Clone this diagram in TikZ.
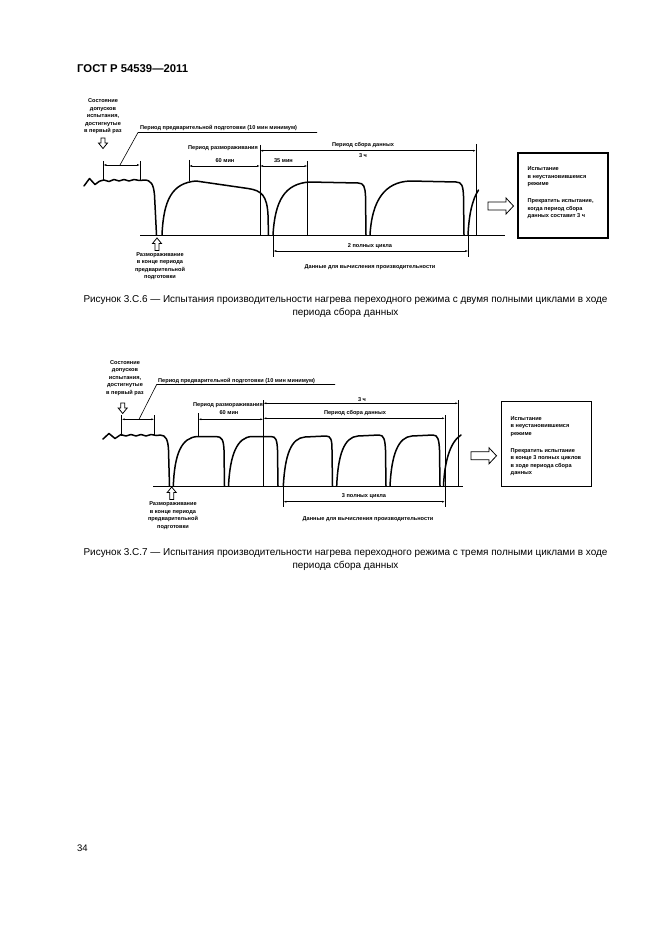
\documentclass[tikz,border=0pt]{standalone}
\usepackage{fontspec}
\setmainfont{Liberation Sans}
\usetikzlibrary{arrows.meta}
\tikzset{
  wave/.style={line width=1.5pt, line join=round, line cap=round},
  vline/.style={line width=0.7pt},
  dimline/.style={line width=0.6pt, {Latex[length=3pt,width=2pt]}-{Latex[length=3pt,width=2pt]}},
  lbl/.style={font=\fontsize{5.6}{7.5}\selectfont\bfseries, inner sep=0pt},
  captxt/.style={font=\fontsize{9.95}{13}\selectfont, inner sep=0pt},
  notebox/.style={draw, line width=1.3pt, inner sep=0pt},
  hdown/.pic={\draw[line width=0.8pt, fill=white] (-2,-5) -- (2,-5) -- (2,0) -- (4.5,0) -- (0,5.5) -- (-4.5,0) -- (-2,0) -- cycle;},
  hup/.pic={\draw[line width=0.8pt, fill=white] (-2,7) -- (2,7) -- (2,0) -- (4.5,0) -- (0,-5.5) -- (-4.5,0) -- (-2,0) -- cycle;},
  hright/.pic={\draw[line width=0.8pt, fill=white] (-18,-4) -- (0,-4) -- (0,-8) -- (7.5,0) -- (0,8) -- (0,4) -- (-18,4) -- cycle;}
}
\begin{document}
\begin{tikzpicture}[x=1pt,y=-1pt]
\useasboundingbox (0,0) rectangle (661,936);
\fill[white] (0,0) rectangle (661,936);

% header and page number
\node[anchor=west, font=\fontsize{11.3}{13}\selectfont\bfseries, inner sep=0pt] (hdr) at (77,68.5) {ГОСТ Р 54539—2011};
\node[anchor=west, font=\fontsize{9.5}{11}\selectfont, inner sep=0pt] (pnum) at (77,848.5) {34};

%%%%%%%%%%%%%%%%%% FIGURE 1 %%%%%%%%%%%%%%%%%%
\node[lbl, align=center] (f1state) at (103,116.5) {Состояние\\допусков\\испытания,\\достигнутые\\в первый раз};
\pic at (103,143) {hdown};

% bracket preconditioning
\draw[vline] (103.3,161) -- (103.3,180);
\draw[vline] (140,161) -- (140,180);
\draw[dimline] (103.3,165) -- (140,165);
\coordinate (f1lead) at (120,165);
\coordinate (f1knee) at (138,132.5);
\coordinate (f1end) at (317,132.5);
\draw[line width=0.6pt] (f1lead) -- (f1knee) -- (f1end);
\node[lbl, anchor=base west] (f1pre) at (140,130) {Период предварительной подготовки (10 мин минимум)};

% defrost / data labels
\node[lbl] (f1defr) at (223,148.3) {Период размораживания};
\node[lbl] (f1m60) at (225,160.3) {60 мин};
\node[lbl] (f1m35) at (283.5,160.3) {35 мин};
\node[lbl] (f1data) at (363,145) {Период сбора данных};
\node[lbl] (f1h3) at (363,155.3) {3 ч};

\draw[vline] (189,160) -- (189,181.5);
\draw[vline] (260,145) -- (260,235);
\draw[vline] (307.5,161) -- (307.5,235);
\draw[vline] (476,144) -- (476,235);
\draw[dimline] (189,166) -- (260,166);
\draw[dimline] (260,166) -- (307.5,166);
\draw[dimline] (260,150.7) -- (476,150.7);

% baseline
\draw[line width=0.9pt] (140,235) -- (505,235);

% waveform
\draw[wave] (84,186) -- (89.5,178.5) -- (95,184.5) -- (99,181.5)
  -- plot[smooth] coordinates {(99,181.5)(104,180)(109,181.5)(114,179.5)(119,181)(124,179.5)(129,181)(134,179.5)(139,180.5)(144,180)}
  .. controls (151,180) and (153.5,184) .. (154.5,195) -- (156.5,235);
\draw[wave] (162,235) .. controls (163.5,200) and (172,183) .. (196,181) -- (248,188.5)
  .. controls (262,190.5) and (267,196) .. (268,215) -- (268.5,235);
\draw[wave] (273,235) .. controls (275,200) and (285,184) .. (309,182) -- (358,183)
  .. controls (364,183) and (365,187) .. (365.5,196) -- (366,235);
\draw[wave] (370,235) .. controls (372,200) and (385,182) .. (410,181) -- (456,182)
  .. controls (462,182) and (463,186) .. (463.5,196) -- (464,235);
\draw[wave] (468,235) .. controls (469,215) and (472,200) .. (478.5,190);

% defrost at end of preconditioning
\pic at (157,243.5) {hup};
\node[lbl, align=center] (f1defend) at (160,266) {Размораживание\\в конце периода\\предварительной\\подготовки};

% two full cycles
\draw[vline] (273.3,235) -- (273.3,257);
\draw[vline] (468.3,235) -- (468.3,257);
\draw[dimline] (273.3,251) -- (468.3,251);
\node[lbl] (f1cyc) at (370,246.3) {2 полных цикла};
\node[lbl] (f1calc) at (370,267) {Данные для вычисления производительности};

% note box
\pic at (506,206) {hright};
\node[notebox, minimum width=90, minimum height=85] (f1box) at (563,195.5) {};
\node[lbl, align=left, anchor=north west] (f1note) at (527.5,166.5) {Испытание\\в неустановившемся\\режиме\\[9.5pt]Прекратить испытание,\\когда период сбора\\данных составит 3 ч};

\node[captxt, align=center] (f1cap) at (345.5,306.5) {Рисунок 3.С.6 — Испытания производительности нагрева переходного режима с двумя полными циклами в ходе\\периода сбора данных};

%%%%%%%%%%%%%%%%%% FIGURE 2 %%%%%%%%%%%%%%%%%%
\node[lbl, align=center] (f2state) at (125,378) {Состояние\\допусков\\испытания,\\достигнутые\\в первый раз};
\pic at (122.7,408) {hdown};

\draw[vline] (121.7,415) -- (121.7,436);
\draw[vline] (154.3,415) -- (154.3,436);
\draw[dimline] (121.7,419.3) -- (154.3,419.3);
\coordinate (f2lead) at (139,419.3);
\coordinate (f2knee) at (156.7,384.5);
\coordinate (f2end) at (335,384.5);
\draw[line width=0.6pt] (f2lead) -- (f2knee) -- (f2end);
\node[lbl, anchor=base west] (f2pre) at (158,382) {Период предварительной подготовки (10 мин минимум)};

\node[lbl] (f2defr) at (228,405) {Период размораживания};
\node[lbl] (f2m60) at (229,413) {60 мин};
\node[lbl] (f2h3) at (362,399.3) {3 ч};
\node[lbl] (f2data) at (355,412.7) {Период сбора данных};

\draw[vline] (198.3,413) -- (198.3,437);
\draw[vline] (263.3,400) -- (263.3,486);
\draw[vline] (458.3,400) -- (458.3,486);
\draw[vline] (445,415) -- (445,507);
\draw[dimline] (198.3,419.3) -- (263.3,419.3);
\draw[dimline] (263.3,403.3) -- (458.3,403.3);
\draw[dimline] (263.3,418.3) -- (445,418.3);

\draw[line width=0.9pt] (153,486) -- (463,486);

\draw[wave] (103,439) -- (109,433.5) -- (115,438.5) -- (121,434.5)
  -- plot[smooth] coordinates {(121,434.5)(126,436)(131,434.5)(136,436)(141,434.5)(146,436)(151,434.5)(156,435.5)(160,435)}
  .. controls (166,435) and (168,440) .. (168.5,450) -- (169.5,486);
\draw[wave] (173.3,486) .. controls (174.5,455) and (181,437) .. (198,436.5) -- (216,436.5)
  .. controls (222,436.5) and (223.5,440) .. (224,450) -- (224.5,486);
\draw[wave] (228.5,486) .. controls (230,455) and (237,437) .. (252,436.5) -- (271,436.5)
  .. controls (276,436.5) and (277,440) .. (277.5,450) -- (278,486);
\draw[wave] (283.3,486) .. controls (285,455) and (291,438) .. (305,437) -- (326,436)
  .. controls (331,436) and (332,440) .. (332,450) -- (332.5,486);
\draw[wave] (336.7,486) .. controls (338,455) and (344,437) .. (358,436) -- (379,435)
  .. controls (384,435) and (385,440) .. (385.5,450) -- (386,486);
\draw[wave] (390,486) .. controls (391.5,455) and (398,437) .. (412,436) -- (433,435)
  .. controls (438,435) and (439,440) .. (439.5,450) -- (440,486);
\draw[wave] (443.5,486) .. controls (444.5,462) and (450,442) .. (461,435);

\pic at (171.7,492.5) {hup};
\node[lbl, align=center] (f2defend) at (173,515.5) {Размораживание\\в конце периода\\предварительной\\подготовки};

\draw[vline] (283.3,486) -- (283.3,507);
\draw[dimline] (283.3,501.7) -- (445,501.7);
\node[lbl] (f2cyc) at (364,496.5) {3 полных цикла};
\node[lbl] (f2calc) at (368,519.3) {Данные для вычисления производительности};

\pic at (489,455.8) {hright};
\node[notebox, minimum width=90, minimum height=85] (f2box) at (546.7,444.2) {};
\node[lbl, align=left, anchor=north west] (f2note) at (510.5,416) {Испытание\\в неустановившемся\\режиме\\[9.5pt]Прекратить испытание\\в конце 3 полных циклов\\в ходе периода сбора\\данных};

\node[captxt, align=center] (f2cap) at (345.5,559.5) {Рисунок 3.С.7 — Испытания производительности нагрева переходного режима с тремя полными циклами в ходе\\периода сбора данных};
\end{tikzpicture}
\end{document}
